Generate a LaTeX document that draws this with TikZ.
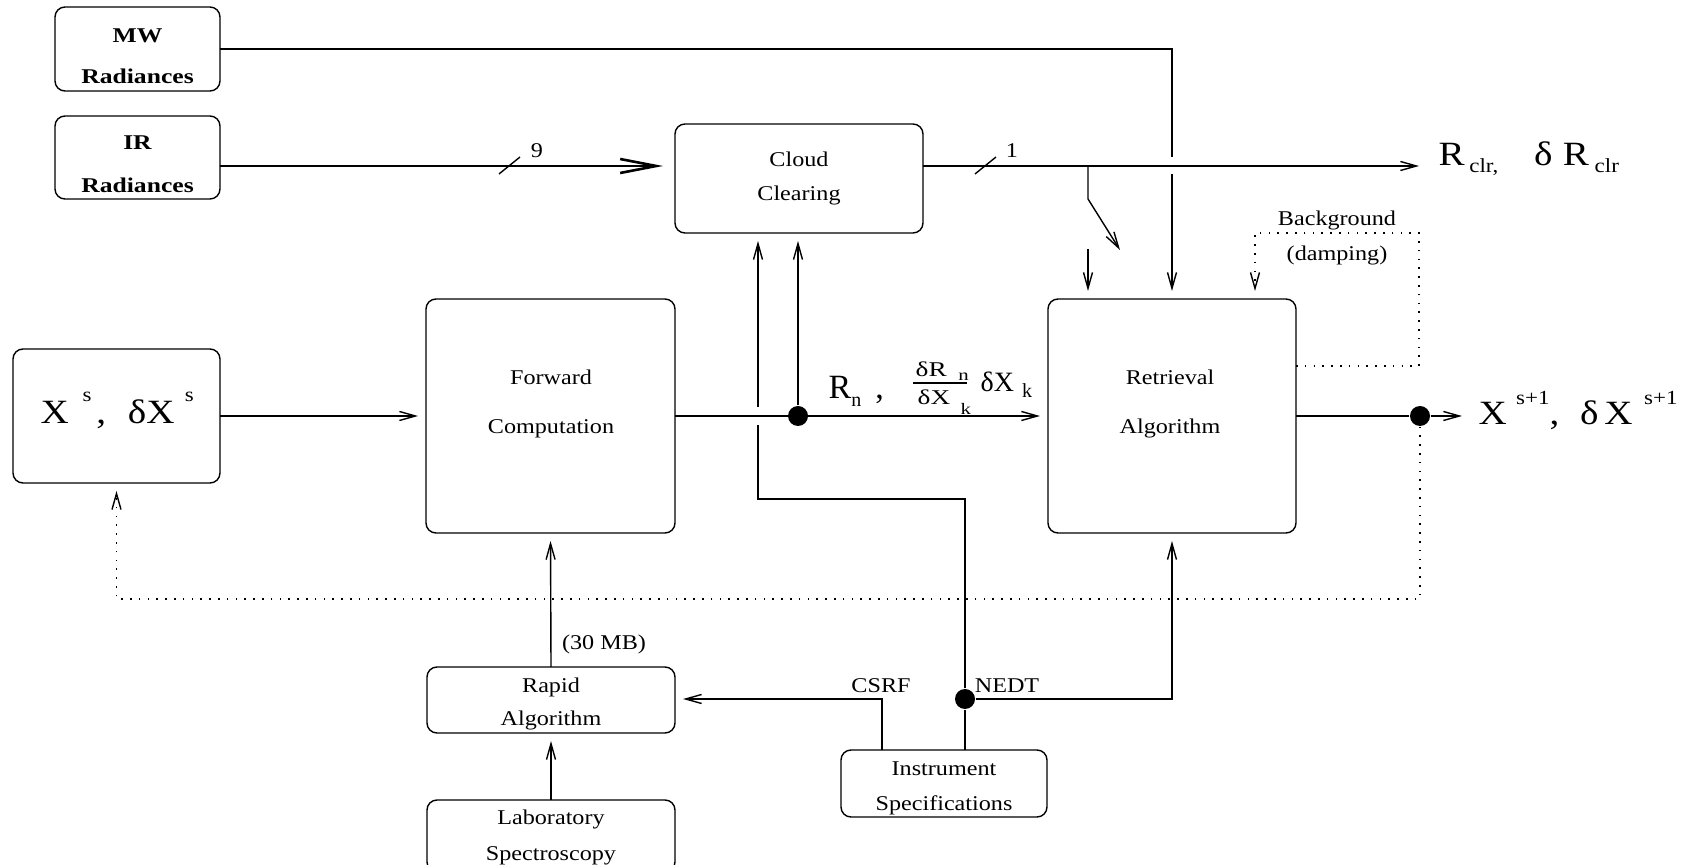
\documentclass[tikz,border=0pt]{standalone}
\usepackage{fontspec}
\usepackage{graphicx}
\setmainfont{Liberation Serif}
\usetikzlibrary{arrows.meta,calc}
\newcommand{\wx}[1]{\scalebox{1.15}[1]{#1}}
\newcommand{\wb}[1]{\scalebox{1.22}[1]{\bfseries #1}}
\newcommand{\bigf}{\fontsize{17}{19}\selectfont}
\newcommand{\subf}{\fontsize{10}{12}\selectfont}
\newcommand{\lw}[2]{\raisebox{-#1}{\subf #2}}
\newcommand{\upr}[2]{\raisebox{#1}{\subf #2}}
\begin{document}
\begin{tikzpicture}[x=0.5pt,y=-0.5pt,line width=0.7pt,
  box/.style={draw, rounded corners=5pt, inner sep=0pt, outer sep=0pt},
  txt/.style={inner sep=0pt, anchor=base, font=\fontsize{10.5}{12}\selectfont},
  lbl/.style={inner sep=0pt, anchor=base west},
  arr/.style={-{Straight Barb[length=8pt,width=4.5pt]}, shorten >=4pt},
  bigarr/.style={-{Straight Barb[length=18pt,width=7pt]}, line width=1.3pt, shorten >=6pt},
  dotarr/.style={arr, dash pattern=on 0.8pt off 3.6pt},
  dot/.style={circle, fill, inner sep=0pt, minimum size=10pt}]
\useasboundingbox (0,0) rectangle (1683,865);
\clip (0,0) rectangle (1683,865);

% boxes
\node[box, minimum width=82.5pt, minimum height=42pt] (mw) at (137.5,49) {};
\node[box, minimum width=82.5pt, minimum height=41.5pt] (ir) at (137.5,157.5) {};
\node[box, minimum width=124pt, minimum height=54.5pt] (cloud) at (799,178.5) {};
\node[box, minimum width=103.5pt, minimum height=67pt] (xs) at (116.5,416) {};
\node[box, minimum width=124.5pt, minimum height=117pt] (fwd) at (550.5,416) {};
\node[box, minimum width=124pt, minimum height=117pt] (ret) at (1172,416) {};
\node[box, minimum width=124pt, minimum height=33pt] (rapid) at (551,700) {};
\node[box, minimum width=103pt, minimum height=33.5pt] (instr) at (944,783.5) {};
\node[box, minimum width=124pt, minimum height=36pt] (lab) at (551,836) {};

% texts
\node[txt] (mw1) at (137.5,43) {\wb{MW}};
\node[txt] (mw2) at (137.5,84) {\wb{Radiances}};
\node[txt] (ir1) at (137.5,150) {\wb{IR}};
\node[txt] (ir2) at (137.5,193) {\wb{Radiances}};
\node[txt] (cl1) at (799,167) {\wx{Cloud}};
\node[txt] (cl2) at (799,201) {\wx{Clearing}};
\node[txt] (fw1) at (551,385) {\wx{Forward}};
\node[txt] (fw2) at (551,434) {\wx{Computation}};
\node[txt] (rt1) at (1170,385) {\wx{Retrieval}};
\node[txt] (rt2) at (1170,434) {\wx{Algorithm}};
\node[txt] (ra1) at (551,693) {\wx{Rapid}};
\node[txt] (ra2) at (551,726) {\wx{Algorithm}};
\node[txt] (in1) at (944,776) {\wx{Instrument}};
\node[txt] (in2) at (944,811) {\wx{Specifications}};
\node[txt] (la1) at (551,825) {\wx{Laboratory}};
\node[txt] (la2) at (551,861) {\wx{Spectroscopy}};
\node[txt] (mb) at (604,650) {\wx{(30 MB)}};
\node[txt] (csrf) at (881,693) {\wx{CSRF}};
\node[txt] (nedt) at (1007,693) {\wx{NEDT}};
\node[txt] (bg1) at (1337,226) {\wx{Background}};
\node[txt] (bg2) at (1337,261) {\wx{(damping)}};
\node[txt] (n9) at (537,158) {\wx{9}};
\node[txt] (n1) at (1012,158) {\wx{1}};

% big labels
\node[lbl] (xslbl) at (40,424) {\wx{\bigf X\hspace{6pt}\upr{11pt}{s}\hspace{2pt},\hspace{9.5pt}δX\hspace{4.5pt}\upr{11pt}{s}}};
\node[lbl] (rclr) at (1438,166) {\wx{\bigf R\hspace{2pt}\lw{3.5pt}{clr,}\hspace{15.5pt}δ\hspace{4.5pt}R\hspace{2.5pt}\lw{3.5pt}{clr}}};
\node[lbl] (xs1) at (1478,425) {\wx{\bigf X\hspace{4pt}\upr{10pt}{s+1},\hspace{9pt}δ\hspace{2.6pt}X\hspace{5pt}\upr{10pt}{s+1}}};
\node[lbl] (rn) at (828,399) {\bigf R\lw{4pt}{n}\hspace{7pt},};
\node[lbl] (fracN) at (915,377) {\scalebox{1.3}[1]{\fontsize{10.5}{12}\selectfont δR\hspace{4.5pt}\raisebox{-2pt}{\fontsize{8}{10}\selectfont n}}};
\node[lbl] (fracD) at (917,405) {\scalebox{1.3}[1]{\fontsize{10.5}{12}\selectfont δX\hspace{4pt}\raisebox{-5pt}{\fontsize{8}{10}\selectfont k}}};
\node[lbl] (dxk) at (980,392) {\fontsize{14}{16}\selectfont δX\hspace{4pt}\raisebox{-3pt}{\subf k}};
\draw (913,383) -- (967,383);

% dots
\node[dot] (d1) at (798,416) {};
\node[dot] (d2) at (1420,416) {};
\node[dot] (d3) at (965,699) {};

% coordinates
\coordinate (yIR) at (0,166);
\coordinate (hopA) at (0,157);
\coordinate (hopB) at (0,174);
\coordinate (clrEnd) at (1419,166);
\coordinate (brA) at (1088,166);
\coordinate (brB) at (1088,199);
\coordinate (brC) at (1120,250);
\coordinate (swA) at (1088,249);
\coordinate (bgA) at (1419,366);
\coordinate (bgB) at (1419,233);
\coordinate (bgC) at (1255,233);
\coordinate (nA) at (965,499);
\coordinate (nB) at (758,499);
\coordinate (hopC) at (758,425);
\coordinate (hopD) at (758,407);
\coordinate (cs) at (882,699);
\coordinate (xEnd) at (1462,416);
\coordinate (fbY) at (0,599);

% connectors
\draw[arr] (mw.east) -- (mw.east -| ret.north) -- (ret.north |- hopA) (ret.north |- hopB) -- (ret.north);
\draw[bigarr] (ir.east |- yIR) -- (cloud.west |- yIR);
\draw (499,174) -- (520,157);
\draw[arr, shorten >=0pt] (cloud.east |- yIR) -- (clrEnd);
\draw (975,174) -- (996,157);
\draw[arr, shorten >=0pt] (brA) -- (brB) -- (brC);
\draw[arr] (swA) -- (swA |- ret.north);
\draw[dotarr] (ret.east |- bgA) -- (bgA) -- (bgB) -- (bgC) -- (bgC |- ret.north);
\draw[arr] (xs.east) -- (fwd.west);
\draw[arr] (fwd.east) -- (ret.west);
\draw[arr] (d1) -- (d1 |- cloud.south);
\draw[arr] (instr.north -| d3) -- (d3) -- (nA) -- (nB) -- (hopC) (hopD) -- (hopD |- cloud.south);
\draw[arr] (d3) -- (d3 -| ret.south) -- (ret.south);
\draw[arr] (instr.north -| cs) -- (cs) -- (cs -| rapid.east);
\draw (ret.east) -- (d2);
\draw[arr, shorten >=0pt] (d2) -- (xEnd);
\draw[dotarr] (d2) -- (d2 |- fbY) -- (xs.south |- fbY) -- (xs.south);
\draw[arr] (rapid.north) -- (fwd.south);
\draw[arr] (lab.north) -- (rapid.south);
\end{tikzpicture}
\end{document}
